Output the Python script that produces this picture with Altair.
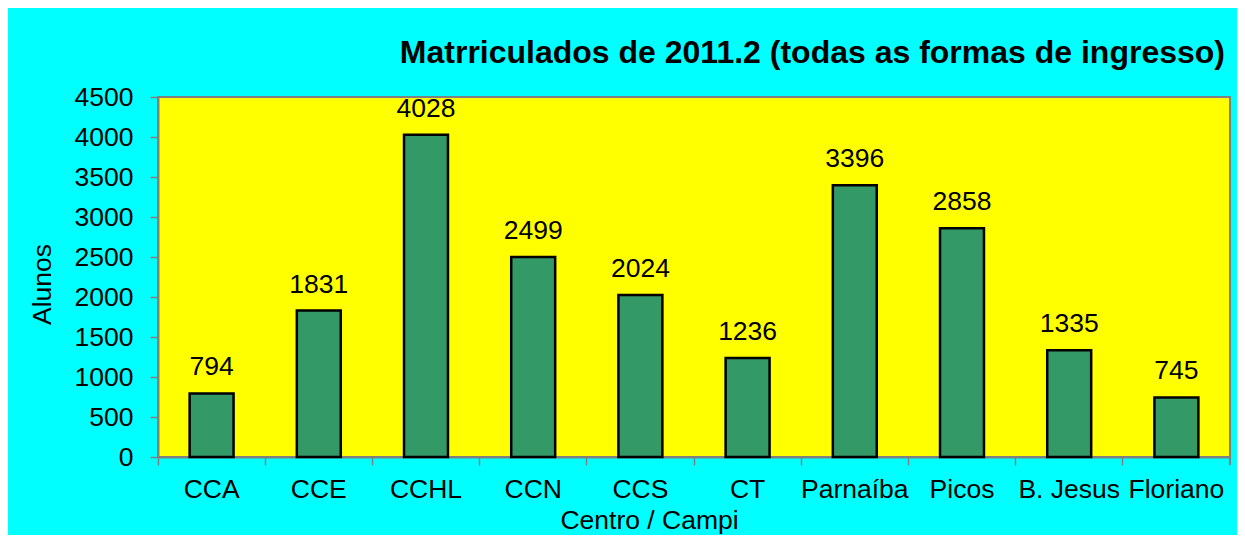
import altair as alt
import pandas as pd

categories = ["CCA", "CCE", "CCHL", "CCN", "CCS", "CT", "Parnaíba", "Picos", "B. Jesus", "Floriano"]
values = [794, 1831, 4028, 2499, 2024, 1236, 3396, 2858, 1335, 745]
y_ticks = [0, 500, 1000, 1500, 2000, 2500, 3000, 3500, 4000, 4500]

df = pd.DataFrame({"Centro": categories, "Alunos": values})

FONT = "Liberation Sans"
FS = 26.5
W, H = 1072, 360

x_enc = alt.X(
    "Centro:N",
    sort=categories,
    scale=alt.Scale(paddingInner=0, paddingOuter=0),
    axis=alt.Axis(
        title="Centro / Campi",
        labelAngle=0,
        labelFontSize=FS,
        labelFont=FONT,
        labelColor="black",
        labelPadding=11,
        labelBaseline="top",
        labelOverlap=False,
        tickSize=8,
        tickColor="#808080",
        tickWidth=1.5,
        bandPosition=0,
        domainColor="#808080",
        domainWidth=2,
        titleFontSize=FS,
        titleFont=FONT,
        titleFontWeight="normal",
        titleColor="black",
        titleX=491,
        titleY=50,
        titleBaseline="top",
        titleAlign="center",
    ),
)

y_enc = alt.Y(
    "Alunos:Q",
    scale=alt.Scale(domain=[0, 4500], nice=False),
    axis=alt.Axis(
        values=y_ticks,
        format="d",
        title="Alunos",
        grid=False,
        labelFontSize=FS,
        labelFont=FONT,
        labelColor="black",
        labelPadding=17,
        labelOverlap=False,
        labelFlush=False,
        tickSize=8,
        tickColor="#808080",
        tickWidth=1.5,
        domainColor="#808080",
        domainWidth=2,
        titleFontSize=FS,
        titleFont=FONT,
        titleFontWeight="normal",
        titleColor="black",
        titleX=-116,
        titleY=187,
        titleAngle=-90,
        titleBaseline="middle",
        titleAlign="center",
    ),
)

bars = alt.Chart(df).mark_bar(
    color="#339966", stroke="black", strokeWidth=2.5, width={"band": 0.41}
).encode(x=x_enc, y=y_enc)

labels = alt.Chart(df).mark_text(
    fontSize=FS, font=FONT, color="black", baseline="alphabetic", dy=-18
).encode(
    x=x_enc,
    y=y_enc,
    text=alt.Text("Alunos:Q", format="d"),
)

end_tick = alt.Chart(df).mark_rule(color="#808080", strokeWidth=1.5).encode(
    x=alt.value(W), y=alt.value(H), y2=alt.value(H + 8)
)

chart = (
    alt.layer(bars, labels, end_tick)
    .properties(
        width=W,
        height=H,
        title=alt.Title(
            "Matrriculados de 2011.2 (todas as formas de ingresso)",
            anchor="end",
            frame="group",
            baseline="alphabetic",
            fontSize=32,
            font=FONT,
            fontWeight="bold",
            color="black",
            offset=5,
            dx=-5,
            dy=16,
        ),
        background="#00FFFF",
        padding={"left": 150, "top": 89, "right": 7, "bottom": 78},
        autosize=alt.AutoSizeParams(type="none"),
    )
    .configure_view(fill="#FFFF00", stroke="#808080", strokeWidth=2)
)

chart.save("out.html", embed_options={"renderer": "svg", "actions": False})
